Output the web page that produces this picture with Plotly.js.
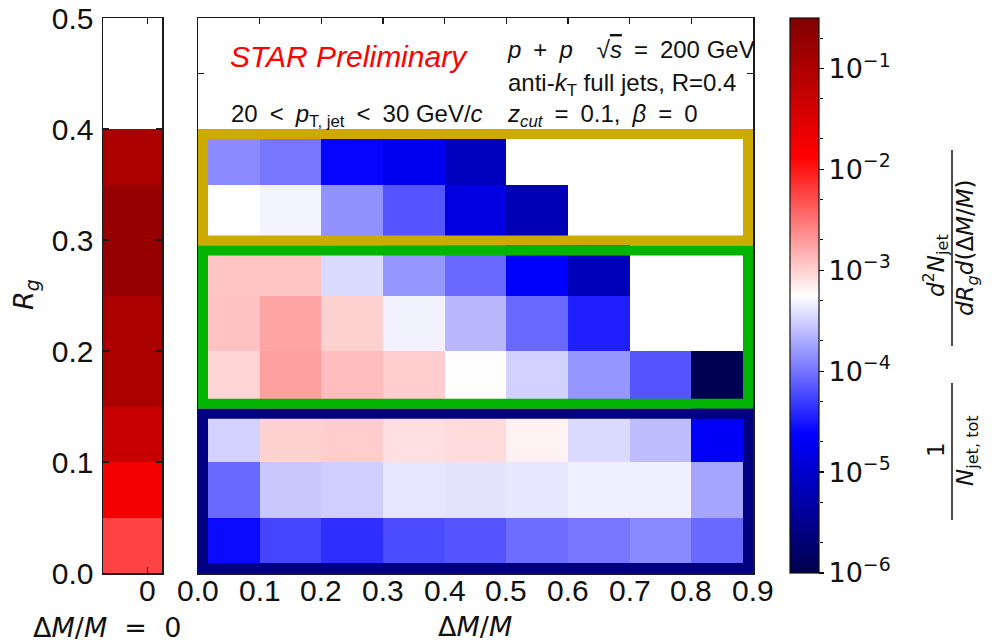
<!DOCTYPE html>
<html><head><meta charset="utf-8">
<script src="https://cdn.plot.ly/plotly-3.0.1.min.js"></script>
<style>html,body{margin:0;padding:0;background:#fff;} #chart{width:992px;height:643px;}</style>
</head><body><div id="chart"></div>
<script>
// ---- data ----
const dmEdges = [0.0, 0.1, 0.2, 0.3, 0.4, 0.5, 0.6, 0.7, 0.8, 0.9];
const dmTickText = ['0.0','0.1','0.2','0.3','0.4','0.5','0.6','0.7','0.8','0.9'];
const rgEdges = [0.00, 0.05, 0.10, 0.15, 0.20, 0.25, 0.30, 0.35, 0.40];
const rgTicks = [0.0, 0.1, 0.2, 0.3, 0.4, 0.5];
const rgTickText = ['0.0','0.1','0.2','0.3','0.4','0.5'];
// 1/N dN^2/(dRg d(dM/M)), one array per Rg bin, columns = dM/M bins
const rg_000_005 = [2.7e-5, 5.6e-5, 4.2e-5, 6.0e-5, 6.8e-5, 9.2e-5, 1.02e-4, 1.31e-4, 8.7e-5];
const rg_005_010 = [8.7e-5, 2.83e-4, 3.1e-4, 4.1e-4, 4.0e-4, 4.15e-4, 4.6e-4, 4.6e-4, 1.83e-4];
const rg_010_015 = [3.2e-4, 9.8e-4, 1.04e-3, 8.4e-4, 8.8e-4, 6.6e-4, 3.6e-4, 2.5e-4, 2.16e-5];
const rg_015_020 = [9.5e-4, 1.82e-3, 1.28e-3, 1.04e-3, 5.8e-4, 3.2e-4, 1.52e-4, 6.8e-5, 1.06e-6];
const rg_020_025 = [1.22e-3, 1.71e-3, 1.01e-3, 4.8e-4, 2.34e-4, 8.7e-5, 3.5e-5, null, null];
const rg_025_030 = [1.17e-3, 1.17e-3, 3.6e-4, 1.52e-4, 8.7e-5, 2.3e-5, 6.8e-6, null, null];
const rg_030_035 = [5.6e-4, 4.9e-4, 1.43e-4, 6.8e-5, 1.39e-5, 6.3e-6, null, null, null];
const rg_035_040 = [1.34e-4, 1.02e-4, 2.5e-5, 1.81e-5, 7.5e-6, null, null, null, null];
// dM/M = 0 strip, per Rg bin (low to high)
const zeroEdges = [-0.15, 0.05];
const zeroTick = [0];
const zeroTickText = ['0'];
const zeroByRg = [5.9e-3, 1.69e-2, 5.2e-2, 0.109, 0.109, 0.179, 0.179, 0.109];
const cbExp = [-6, -5, -4, -3, -2, -1];
const cbRangeLog = [-6, -0.5];

// ---- helpers ----
const W = 992, H = 643;
const px = v => v / W;
const py = v => 1 - v / H;
const lg = v => (v === null ? null : Math.log10(v));

const zMain = [rg_000_005, rg_005_010, rg_010_015, rg_015_020,
               rg_020_025, rg_025_030, rg_030_035, rg_035_040].map(r => r.map(lg));
const zZero = zeroByRg.map(v => [lg(v)]);

const seismic = [[0, 'rgb(0,0,77)'], [0.25, 'rgb(0,0,255)'], [0.5, 'rgb(255,255,255)'],
                 [0.75, 'rgb(255,0,0)'], [1, 'rgb(128,0,0)']];

const traces = [
  {type: 'heatmap', x: zeroEdges, y: rgEdges, z: zZero, coloraxis: 'coloraxis',
   xaxis: 'x', yaxis: 'y', hoverongaps: false},
  {type: 'heatmap', x: dmEdges, y: rgEdges, z: zMain, coloraxis: 'coloraxis',
   xaxis: 'x2', yaxis: 'y2', hoverongaps: false},
  // empty trace that carries the log axis used for the colorbar's minor ticks
  {type: 'scatter', x: [null], y: [null], xaxis: 'x3', yaxis: 'y3', mode: 'markers', hoverinfo: 'skip'}
];

const axCommon = {showgrid: false, zeroline: false, showline: true, mirror: 'ticks',
  linecolor: '#1a1a1a', linewidth: 1.5, ticks: 'inside', ticklen: 6, tickwidth: 1.5,
  tickcolor: '#1a1a1a', fixedrange: true};
const tickFont = {family: 'Liberation Sans, Arial, sans-serif', size: 30, color: '#111'};

// highlight boxes (outer edges in data units), line drawn inset by half its width
const lw = 10;
const insetX = (lw / 2) / (555 / 0.9);
const insetY = (lw / 2) / (555 / 0.5);
const boxes = [
  {x0: 0.0, x1: 0.9, y0: 0.295, y1: 0.4, color: 'rgb(204,170,0)'},
  {x0: 0.0, x1: 0.9, y0: 0.148, y1: 0.295, color: 'rgb(0,180,0)'},
  {x0: 0.0, x1: 0.9, y0: 0.0, y1: 0.148, color: 'rgb(0,0,128)'}
];
const shapes = boxes.map(b => ({type: 'rect', xref: 'x2', yref: 'y2',
  x0: b.x0 + insetX, x1: b.x1 - insetX, y0: b.y0 + insetY, y1: b.y1 - insetY,
  line: {color: b.color, width: lw}, fillcolor: 'rgba(0,0,0,0)', layer: 'above'}));
// fraction bars of the colorbar label
shapes.push({type: 'line', xref: 'paper', yref: 'paper', x0: px(952), x1: px(952), y0: py(150), y1: py(346), line: {color: '#111', width: 1.5}});
shapes.push({type: 'line', xref: 'paper', yref: 'paper', x0: px(952), x1: px(952), y0: py(383), y1: py(520), line: {color: '#111', width: 1.5}});

const txt = {family: 'Liberation Sans, Arial, sans-serif', size: 24, color: '#111'};
const mathFont = {family: 'DejaVu Sans, sans-serif', size: 27, color: '#111'};
const cbFont = {family: 'DejaVu Sans, sans-serif', size: 23, color: '#111'};
const sp = '\u2002';   // math-style spacing around operators
let annotations = [
  {text: '<i>STAR Preliminary</i>', x: px(228), y: py(57), xanchor: 'left', yanchor: 'middle',
   font: {family: 'Liberation Sans, Arial, sans-serif', size: 30, color: 'rgb(255,0,0)'}},
  {text: '<i>p</i>' + sp + '+' + sp + '<i>p</i>\u2003\u221A<span style="text-decoration:overline"><i>s</i></span>' + sp + '=' + sp + '200 GeV',
   x: px(505), y: py(49), xanchor: 'left', yanchor: 'middle', font: txt},
  {text: 'anti-<i>k</i><sub>T</sub> full jets, R=0.4', x: px(506), y: py(84), xanchor: 'left', yanchor: 'middle', font: txt},
  {text: '<i>z</i><sub><i>cut</i></sub>' + sp + '=' + sp + '0.1,' + sp + '<i>\u03B2</i>' + sp + '=' + sp + '0', x: px(505), y: py(115), xanchor: 'left', yanchor: 'middle', font: txt},
  {text: '20' + sp + '&lt;' + sp + '<i>p</i><sub>T, jet</sub>' + sp + '&lt;' + sp + '30 GeV/<i>c</i>', x: px(229), y: py(115), xanchor: 'left', yanchor: 'middle', font: txt},
  {text: '<i>R</i><sub><i>g</i></sub>', x: px(25), y: py(295), textangle: -90, xanchor: 'center', yanchor: 'middle', font: mathFont},
  {text: '\u0394<i>M</i>/<i>M</i>  =  0', x: px(107), y: py(627), xanchor: 'center', yanchor: 'middle', font: mathFont},
  {text: '\u0394<i>M</i>/<i>M</i>', x: px(475), y: py(626), xanchor: 'center', yanchor: 'middle', font: mathFont},
  {text: '<i>d</i><sup>2</sup><i>N</i><sub>jet</sub>', x: px(936), y: py(266), textangle: -90, xanchor: 'center', yanchor: 'middle', font: cbFont},
  {text: '<i>dR</i><sub><i>g</i></sub><i>d</i>(\u0394<i>M</i>/<i>M</i>)', x: px(967), y: py(248), textangle: -90, xanchor: 'center', yanchor: 'middle', font: cbFont},
  {text: '1', x: px(936), y: py(450), textangle: -90, xanchor: 'center', yanchor: 'middle', font: cbFont},
  {text: '<i>N</i><sub>jet, tot</sub>', x: px(967), y: py(451), textangle: -90, xanchor: 'center', yanchor: 'middle', font: cbFont}
].map(a => Object.assign({xref: 'paper', yref: 'paper', showarrow: false}, a));
// x tick labels placed on the axes' own scales, just below the frame
const tickLab = (ax, vals, texts) => vals.map((v, i) => ({text: texts[i], xref: ax, yref: 'paper',
  x: v, y: py(590), xanchor: 'center', yanchor: 'middle', showarrow: false, font: tickFont}));
annotations = annotations.concat(tickLab('x2', dmEdges, dmTickText), tickLab('x', zeroTick, zeroTickText));

const layout = {
  width: W, height: H, margin: {l: 0, r: 0, t: 0, b: 0},
  paper_bgcolor: 'white', plot_bgcolor: 'white', showlegend: false,
  font: {family: 'Liberation Sans, Arial, sans-serif', color: '#111'},
  xaxis: Object.assign({}, axCommon, {domain: [px(103), px(162)], range: [-0.15, 0.05],
    tickvals: zeroTick, showticklabels: false, anchor: 'y'}),
  yaxis: Object.assign({}, axCommon, {domain: [py(573), py(18)], range: [0, 0.5],
    tickvals: rgTicks, ticktext: rgTickText, tickfont: tickFont, anchor: 'x', ticklabelstandoff: 2}),
  xaxis2: Object.assign({}, axCommon, {domain: [px(198), px(753)], range: [0, 0.9],
    tickvals: dmEdges, showticklabels: false, anchor: 'y2'}),
  yaxis2: Object.assign({}, axCommon, {domain: [py(573), py(18)], range: [0, 0.5],
    tickvals: [0.05, 0.15, 0.25, 0.35, 0.45], showticklabels: false, anchor: 'x2'}),
  xaxis3: {domain: [px(790), px(819)], visible: false, fixedrange: true, anchor: 'y3'},
  yaxis3: {domain: [py(573), py(18)], type: 'log', range: cbRangeLog, anchor: 'x3', side: 'right',
    showgrid: false, zeroline: false, showline: false, showticklabels: false,
    ticks: 'outside', ticklen: 4, tickwidth: 1.2, tickcolor: '#111',
    tickvals: cbExp.map(e => Math.pow(10, e)),
    minor: {ticks: 'outside', ticklen: 3, tickwidth: 1, tickcolor: '#111', showgrid: false},
    fixedrange: true},
  coloraxis: {cmin: cbRangeLog[0], cmax: cbRangeLog[1], colorscale: seismic,
    colorbar: {x: px(790), xanchor: 'left', xref: 'paper', y: py(573), yanchor: 'bottom', yref: 'paper',
      len: 555 / H, lenmode: 'fraction', thickness: 29, thicknessmode: 'pixels', xpad: 0, ypad: 0,
      outlinewidth: 1.2, outlinecolor: '#111', ticks: 'outside', ticklen: 4, tickwidth: 1.2, tickcolor: '#111',
      tickmode: 'array', tickvals: cbExp, ticktext: cbExp.map(e => '10<sup>\u2212' + (-e) + '</sup>'),
      tickfont: {family: 'DejaVu Sans, sans-serif', size: 27, color: '#111'}}},
  shapes: shapes,
  annotations: annotations
};

Plotly.newPlot('chart', traces, layout, {displayModeBar: false, staticPlot: true});
</script></body></html>
